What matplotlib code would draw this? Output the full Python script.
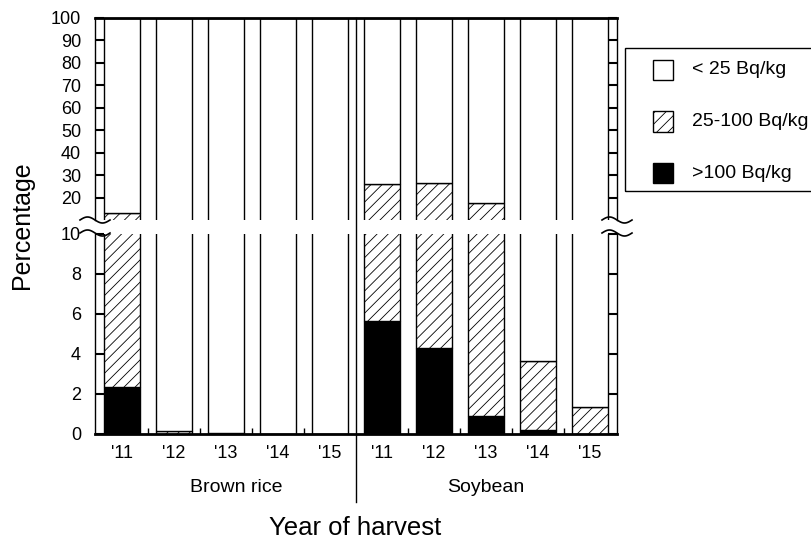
#radiocesium in brown rice and soybean, share of samples per class
import matplotlib
matplotlib.use('Agg')
import matplotlib.pyplot as plt
from matplotlib.lines import Line2D
from matplotlib.patches import Rectangle
from matplotlib.transforms import blended_transform_factory
import numpy as np

plt.rcParams['font.family'] = ['Liberation Sans', 'DejaVu Sans']
plt.rcParams['hatch.linewidth'] = 0.6

#data (percent of samples)
years = ["'11", "'12", "'13", "'14", "'15"]
crops = ['Brown rice', 'Soybean']
rice_over100 = [2.35, 0.0, 0.05, 0.0, 0.0]
rice_25_100 = [10.8, 0.15, 0.0, 0.0, 0.02]
soy_over100 = [5.65, 4.3, 0.9, 0.2, 0.0]
soy_25_100 = [20.55, 22.4, 16.8, 3.45, 1.35]
labels = ['< 25 Bq/kg', '25-100 Bq/kg', '>100 Bq/kg']

over100 = np.array(rice_over100 + soy_over100)
mid = np.array(rice_25_100 + soy_25_100)
low = 100 - over100 - mid
x = np.arange(len(over100))

W, H = 812, 541
fig = plt.figure(figsize=(W / 100, H / 100), dpi=100)
left, right = 95 / W, 617 / W
ax_up = fig.add_axes([left, 1 - 220 / H, right - left, 202 / H])
ax_lo = fig.add_axes([left, 1 - 434 / H, right - left, 200 / H])

styles = [dict(facecolor='white', edgecolor='black', lw=1),
          dict(facecolor='white', edgecolor='black', hatch='///', lw=1),
          dict(facecolor='black', edgecolor='black', lw=1)]

for ax in (ax_up, ax_lo):
    ax.bar(x, over100, 0.71, **styles[2])
    ax.bar(x, mid, 0.71, bottom=over100, **styles[1])
    ax.bar(x, low, 0.71, bottom=over100 + mid, **styles[0])
    ax.set_xlim(-0.52, 9.52)
    ax.tick_params(axis='y', direction='in', length=6.5, width=1.5,
                   right=True, labelsize=13, pad=10)
    ax.spines['left'].set_linewidth(1)
    ax.spines['right'].set_linewidth(1)

ax_up.set_ylim(10, 100)
ax_up.set_yticks(np.arange(20, 101, 10))
ax_up.spines['bottom'].set_visible(False)
ax_up.spines['top'].set_linewidth(2)
ax_up.set_xticks([])

ax_lo.set_ylim(0, 10)
ax_lo.set_yticks(np.arange(0, 11, 2))
ax_lo.spines['top'].set_visible(False)
ax_lo.spines['bottom'].set_linewidth(2)
ax_lo.set_xticks(x)
ax_lo.set_xticklabels(years * 2)
ax_lo.tick_params(axis='x', length=0, labelsize=13, pad=8)
ax_lo.set_xticks([0.5, 1.5, 2.5, 3.5, 5.5, 6.5, 7.5, 8.5], minor=True)
ax_lo.tick_params(axis='x', which='minor', direction='in', length=4, width=1)

#group labels and divider
tr = blended_transform_factory(ax_lo.transData, ax_lo.transAxes)
ax_lo.text(2.2, -0.265, crops[0], transform=tr, ha='center', va='center', fontsize=14)
ax_lo.text(7.0, -0.265, crops[1], transform=tr, ha='center', va='center', fontsize=14)
trf = blended_transform_factory(ax_lo.transData, fig.transFigure)
fig.add_artist(Line2D([4.5, 4.5], [1 - 502 / H, 1 - 18 / H], transform=trf,
                      color='black', lw=1))

#axis break marks
t = np.linspace(0, 1, 50)
for xc in (95, 617):
    for yc in (220, 233):
        xs = (xc - 15 + 30 * t) / W
        ys = 1 - (yc - 3 * np.sin(2 * np.pi * t)) / H
        fig.add_artist(Line2D(xs, ys, color='black', lw=1.2))

fig.text(355 / W, 1 - 528 / H, 'Year of harvest', ha='center', va='center', fontsize=18.5)
fig.text(22 / W, 1 - 225 / H, 'Percentage', ha='center', va='center',
         rotation=90, fontsize=18)

#legend box, runs off the right edge like the original
fig.add_artist(Rectangle((625 / W, 1 - 191 / H), 200 / W, 143 / H,
                         transform=fig.transFigure, fill=False,
                         edgecolor='black', lw=1))
for i, (lab, st) in enumerate(zip(labels, styles)):
    yc = 70 + 51.5 * i
    fig.add_artist(Rectangle((653 / W, 1 - (yc + 10) / H), 20 / W, 20 / H,
                             transform=fig.transFigure, **st))
    fig.text(692 / W, 1 - yc / H, lab, ha='left', va='center', fontsize=14)

plt.savefig('out.png')
